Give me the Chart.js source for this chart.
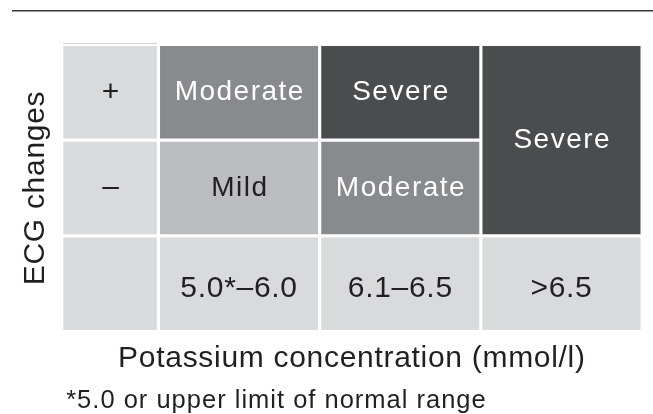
<!DOCTYPE html>
<html>
<head>
<meta charset="utf-8">
<title>Potassium / ECG severity</title>
<script src="https://cdn.jsdelivr.net/npm/chart.js@4.4.1/dist/chart.umd.min.js"></script>
<style>
  html, body { margin: 0; padding: 0; background: #fff; }
  #wrap { width: 653px; height: 414px; position: relative; }
</style>
</head>
<body>
<div id="wrap"><canvas id="grafico"></canvas></div>
<script>
// ===== Data =====
const potassiumBins = ["5.0*–6.0", "6.1–6.5", ">6.5"];      // x ticks
const ecgRows = ["–", "+"];                                   // y ticks, bottom to top
const severityNoEcg = ["Mild", "Moderate", "Severe"];         // row "–"
const severityWithEcg = ["Moderate", "Severe", "Severe"];     // row "+"
const levels = ["Mild", "Moderate", "Severe"];
const footnote = "*5.0 or upper limit of normal range";

// ===== Style =====
const FONT = "'Liberation Sans', Arial, Helvetica, sans-serif";
const INK = "#231f20";
const LABEL_BG = "#d9dadb";
const LEVEL_BG = ["#bcbdbf", "#898a8d", "#4b4c4e"];
const LEVEL_INK = [INK, "#ffffff", "#ffffff"];
const GAP = 1.6; // half of the white gap between cells

Chart.defaults.font.family = FONT;

// one bar per cell; when both ECG rows share a level the column is a single tall cell
const cells = [];
potassiumBins.forEach((_, i) => {
  const lo = severityNoEcg[i], hi = severityWithEcg[i];
  if (lo === hi) cells.push({ x: i + 1, y: [0, 2], level: lo });
  else {
    cells.push({ x: i + 1, y: [0, 1], level: lo });
    cells.push({ x: i + 1, y: [1, 2], level: hi });
  }
});

function box(ctx, x, y, x0, x1, y0, y1) {
  const l = x.getPixelForValue(x0), r = x.getPixelForValue(x1);
  const t = y.getPixelForValue(y1), b = y.getPixelForValue(y0);
  ctx.fillRect(l + GAP, t + GAP, r - l - 2 * GAP, b - t - 2 * GAP);
}

// ===== Plugin: label bands, cell texts, rule and footnote =====
const moldura = {
  id: "moldura",
  beforeDraw(chart) {
    const { ctx, chartArea: a, scales: { x, y } } = chart;
    ctx.letterSpacing = "0.7px";
    ctx.save();
    ctx.fillStyle = LABEL_BG;
    // column with the ECG labels (plus the empty corner)
    for (let r = y.min; r < y.max; r++) box(ctx, x, y, x.min, 0.5, r, r + 1);
    // row with the potassium bins
    potassiumBins.forEach((_, i) => box(ctx, x, y, i + 0.5, i + 1.5, y.min, 0));
    // faint line over the label column
    ctx.strokeStyle = "#d2d2d2";
    ctx.lineWidth = 1;
    ctx.beginPath();
    ctx.moveTo(x.getPixelForValue(x.min) + GAP, a.top - 1);
    ctx.lineTo(x.getPixelForValue(0.5) - GAP, a.top - 1);
    ctx.stroke();
    ctx.restore();
  },
  afterDatasetsDraw(chart) {
    const { ctx } = chart;
    ctx.save();
    ctx.font = "28px " + FONT;
    ctx.letterSpacing = "1.5px";
    ctx.textAlign = "center";
    ctx.textBaseline = "middle";
    chart.data.datasets.forEach((ds, k) => {
      chart.getDatasetMeta(k).data.forEach((bar, j) => {
        const p = bar.getCenterPoint();
        ctx.fillStyle = LEVEL_INK[k];
        ctx.fillText(ds.data[j].level, p.x + 0.75, p.y);
      });
    });
    ctx.restore();
  },
  afterDraw(chart) {
    const { ctx, chartArea: a } = chart;
    ctx.save();
    ctx.strokeStyle = "#3a3a3a";
    ctx.lineWidth = 1.5;
    ctx.beginPath();
    ctx.moveTo(12, 10.75);
    ctx.lineTo(chart.width, 10.75);
    ctx.stroke();
    ctx.font = "25.5px " + FONT;
    ctx.letterSpacing = "1px";
    ctx.fillStyle = INK;
    ctx.textAlign = "left";
    ctx.textBaseline = "alphabetic";
    ctx.fillText(footnote, a.left + 4.5, chart.height - 6);
    ctx.restore();
  }
};

// ===== Chart =====
new Chart(document.getElementById("grafico"), {
  type: "bar",
  data: {
    datasets: levels.map((lv, k) => ({
      label: lv,
      data: cells.filter(c => c.level === lv),
      backgroundColor: LEVEL_BG[k],
      borderColor: "#ffffff",
      borderWidth: GAP,
      borderSkipped: false,
      inflateAmount: 0,
      grouped: false,
      categoryPercentage: 1,
      barPercentage: 1,
    })),
  },
  options: {
    responsive: true,
    maintainAspectRatio: false,
    animation: false,
    layout: { padding: { top: 44.5, right: 10.9, bottom: 82.5, left: 0 } },
    plugins: { legend: { display: false }, tooltip: { enabled: false } },
    scales: {
      x: {
        type: "linear", min: -0.1, max: 3.5, offset: false,
        position: { y: 0 },
        grid: { display: false, drawTicks: false }, border: { display: false },
        afterBuildTicks: s => { s.ticks = potassiumBins.map((_, i) => ({ value: i + 1 })); },
        afterFit: s => { s.height = 141.2; },
        ticks: { padding: 34.5, color: INK, font: { size: 30 }, maxRotation: 0, autoSkip: false,
                 callback: v => potassiumBins[v - 1] },
        title: { display: true, text: "Potassium concentration (mmol/l)", color: INK,
                 font: { size: 30 }, padding: 0 },
      },
      y: {
        type: "linear", min: -1, max: 2,
        grid: { display: false, drawTicks: false }, border: { display: false },
        afterBuildTicks: s => { s.ticks = ecgRows.map((_, r) => ({ value: r + 0.5 })); },
        afterFit: s => { s.width = 61.7; s.paddingTop = 0; s.paddingBottom = 0; },
        ticks: { mirror: true, crossAlign: "center", padding: 40.4, color: INK, font: { size: 30 },
                 callback: v => ecgRows[Math.floor(v)] },
        title: { display: true, text: "ECG changes", color: INK, font: { size: 30 },
                 padding: { top: 17.5, bottom: 0 } },
      },
    },
  },
  plugins: [moldura],
});
</script>
</body>
</html>
